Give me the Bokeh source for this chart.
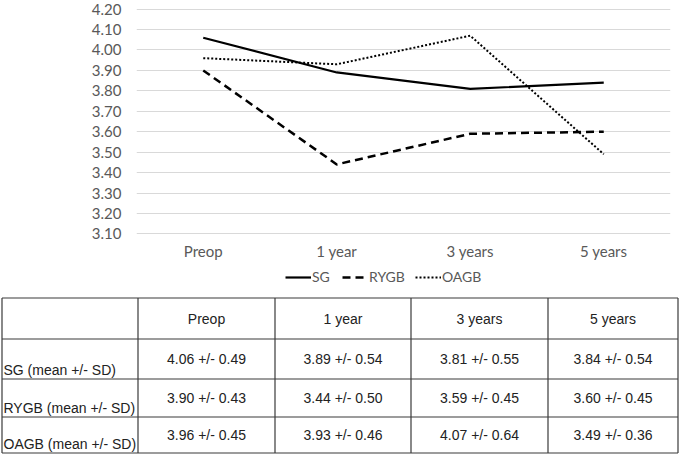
from bokeh.plotting import figure
from bokeh.models import (Range1d, FixedTicker, NumeralTickFormatter, Legend,
                          LegendItem)
from bokeh.core.properties import value
from bokeh.embed import file_html
from bokeh.resources import INLINE

# ---- data ----
categories = ["Preop", "1 year", "3 years", "5 years"]
sg_mean = [4.06, 3.89, 3.81, 3.84]
sg_sd = [0.49, 0.54, 0.55, 0.54]
rygb_mean = [3.90, 3.44, 3.59, 3.60]
rygb_sd = [0.43, 0.50, 0.45, 0.45]
oagb_mean = [3.96, 3.93, 4.07, 3.49]
oagb_sd = [0.45, 0.46, 0.64, 0.36]
series_names = ["SG", "RYGB", "OAGB"]
row_labels = ["SG (mean +/- SD)", "RYGB (mean +/- SD)", "OAGB (mean +/- SD)"]
y_ticks = [3.10, 3.20, 3.30, 3.40, 3.50, 3.60, 3.70, 3.80, 3.90, 4.00, 4.10, 4.20]

GRAY = "#595959"
CHART_FONT = "Lato"
TABLE_FONT = "Liberation Sans"

SG_STYLE = dict(line_color="black", line_width=2.2)
RYGB_STYLE = dict(line_color="black", line_width=2.5, line_dash="8 5")
OAGB_STYLE = dict(line_color="black", line_width=2, line_dash="2 2")

# ---- chart ----
W = 685
p = figure(x_range=categories, y_range=Range1d(3.097, 4.203),
           width=W, height=262, output_backend="svg", toolbar_location=None,
           min_border_left=136, min_border_right=15, min_border_top=8,
           min_border_bottom=28)
p.outline_line_color = None
p.background_fill_color = "white"
p.border_fill_color = "white"
p.xgrid.grid_line_color = None
p.ygrid.grid_line_color = "#d9d9d9"
p.ygrid.grid_line_width = 1

p.yaxis.ticker = FixedTicker(ticks=y_ticks)
p.yaxis.formatter = NumeralTickFormatter(format="0.00")
for ax in (p.xaxis[0], p.yaxis[0]):
    ax.axis_line_color = None
    ax.major_tick_line_color = None
    ax.minor_tick_line_color = None
    ax.major_tick_out = 0
    ax.major_tick_in = 0
    ax.major_label_text_font = CHART_FONT
    ax.major_label_text_font_size = "15px"
    ax.major_label_text_color = GRAY
p.yaxis.major_label_standoff = 15
p.xaxis.major_label_standoff = 7

p.line(categories, sg_mean, **SG_STYLE)
p.line(categories, rygb_mean, **RYGB_STYLE)
p.line(categories, oagb_mean, **OAGB_STYLE)

# ---- table (with legend on top) ----
TH = 193
t = figure(x_range=Range1d(0, W), y_range=Range1d(TH, 0), width=W, height=TH,
           output_backend="svg", toolbar_location=None, min_border=0,
           x_axis_location=None, y_axis_location=None)
t.outline_line_color = None
t.xgrid.grid_line_color = None
t.ygrid.grid_line_color = None
t.background_fill_color = "white"
t.border_fill_color = "white"

# legend swatches: non-drawn renderers (NaN data) carrying the series styles
nan = float("nan")
k_sg = t.line([nan], [nan], **SG_STYLE)
k_rygb = t.line([nan], [nan], **RYGB_STYLE)
k_oagb = t.line([nan], [nan], **OAGB_STYLE)
legend = Legend(items=[LegendItem(label=series_names[0], renderers=[k_sg]),
                       LegendItem(label=series_names[1], renderers=[k_rygb]),
                       LegendItem(label=series_names[2], renderers=[k_oagb])],
                orientation="horizontal", location=(285, 170))
legend.border_line_color = None
legend.background_fill_alpha = 0
legend.padding = 0
legend.margin = 0
legend.spacing = 10
legend.glyph_width = 26
legend.glyph_height = 16
legend.label_standoff = 1
legend.label_text_font = CHART_FONT
legend.label_text_font_size = "14px"
legend.label_text_color = GRAY
legend.label_height = 16
t.add_layout(legend, "center")

col_edges = [1.5, 137.5, 274.5, 410.5, 547.5, 677.5]
row_edges = [35.5, 76.5, 116.5, 154.5, 190.5]

xs0, ys0, xs1, ys1 = [], [], [], []
for x in col_edges:
    xs0.append(x); xs1.append(x); ys0.append(row_edges[0]); ys1.append(row_edges[-1])
for y in row_edges:
    xs0.append(col_edges[0]); xs1.append(col_edges[-1]); ys0.append(y); ys1.append(y)
t.segment(xs0, ys0, xs1, ys1, line_color="#3a3a3a", line_width=1.2)

hx = [(col_edges[i + 1] + col_edges[i + 2]) / 2 for i in range(len(categories))]
hy = [(row_edges[0] + row_edges[1]) / 2] * len(categories)
t.text(hx, hy, text=categories, text_align="center", text_baseline="middle",
       text_font=value(TABLE_FONT), text_font_size="14px", text_color="#222222")

means = [sg_mean, rygb_mean, oagb_mean]
sds = [sg_sd, rygb_sd, oagb_sd]
lx = [col_edges[0] + 1.5] * len(row_labels)
ly = [row_edges[i + 2] - 1 for i in range(len(row_labels))]
t.text(lx, ly, text=row_labels, text_align="left", text_baseline="bottom",
       text_font=value(TABLE_FONT), text_font_size="14px", text_color="#222222")

vx, vy, vt = [], [], []
for r in range(len(means)):
    for c in range(len(categories)):
        vx.append((col_edges[c + 1] + col_edges[c + 2]) / 2)
        vy.append((row_edges[r + 1] + row_edges[r + 2]) / 2)
        vt.append("{:.2f} +/- {:.2f}".format(means[r][c], sds[r][c]))
t.text(vx, vy, text=vt, text_align="center", text_baseline="middle",
       text_font=value(TABLE_FONT), text_font_size="14px", text_color="#222222")

open("out.html", "w").write(file_html([p, t], INLINE))
